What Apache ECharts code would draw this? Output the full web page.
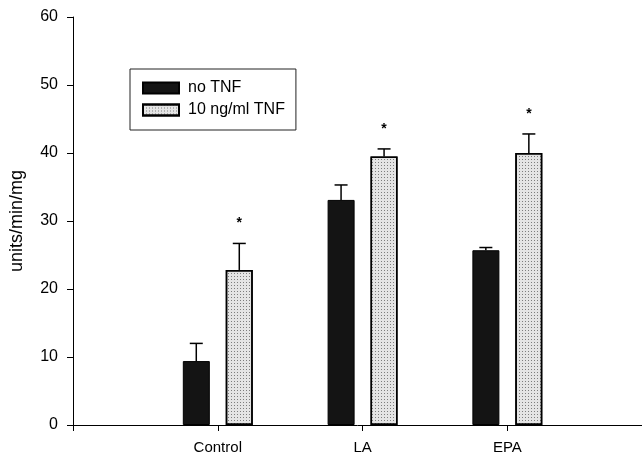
<!DOCTYPE html>
<html>
<head>
<meta charset="utf-8">
<script src="https://cdn.jsdelivr.net/npm/echarts@6/dist/echarts.min.js"></script>
<style>
  html, body { margin: 0; padding: 0; background: #fff; }
  #chart { width: 642px; height: 455px; }
</style>
</head>
<body>
<div id="chart"></div>
<script>
// data
var categories = ['Control', 'LA', 'EPA'];
var noTnf = [9.4, 33.1, 25.7];
var noTnfErr = [2.6, 2.2, 0.4];
var tnf = [22.8, 39.5, 40.0];
var tnfErr = [3.9, 1.1, 2.8];
var significant = [true, true, true];
var yTicks = [0, 10, 20, 30, 40, 50, 60];

var FONT = 'Liberation Sans, Arial, sans-serif';
var BAR_W = 27;
var GAP = 16;

var chart = echarts.init(document.getElementById('chart'));

function pos(i) { return i + 1; }

function barData(vals) {
  return vals.map(function (v, i) { return [pos(i), v]; });
}
function errData(vals, errs) {
  return vals.map(function (v, i) { return [pos(i), v + errs[i], v, significant[i] ? 1 : 0]; });
}

// upper whisker only, plus the star for the treated bars
function errorRenderer(side, withStar) {
  return function (params, api) {
    var shift = side * (BAR_W + GAP) / 2;
    var base = api.coord([api.value(0), api.value(2)]);
    var top = api.coord([api.value(0), api.value(1)]);
    var x = base[0] + shift;
    var cap = 6.5;
    var children = [
      { type: 'line', shape: { x1: x, y1: base[1], x2: x, y2: top[1] }, style: { stroke: '#000', lineWidth: 1.5 } },
      { type: 'line', shape: { x1: x - cap, y1: top[1], x2: x + cap, y2: top[1] }, style: { stroke: '#000', lineWidth: 1.5 } }
    ];
    if (withStar && api.value(3)) {
      children.push({
        type: 'text',
        style: { text: '*', x: x, y: top[1] - 20, align: 'center', verticalAlign: 'middle', font: 'bold 14px ' + FONT, fill: '#000' }
      });
    }
    return { type: 'group', children: children };
  };
}

chart.setOption({
  animation: false,
  backgroundColor: '#fff',
  grid: { left: 72, right: 0, top: 17, bottom: 29 },
  legend: {
    orient: 'vertical',
    left: 130,
    top: 69,
    padding: [11, 11, 12, 12],
    borderColor: '#222',
    borderWidth: 1,
    itemWidth: 36,
    itemHeight: 11,
    itemGap: 6,
    icon: 'rect',
    textStyle: { fontFamily: FONT, fontSize: 16, lineHeight: 15, color: '#000', padding: [0, 0, 0, 4] },
    data: ['no TNF', '10 ng/ml TNF']
  },
  xAxis: {
    type: 'value',
    min: 0,
    max: 3.93,
    interval: 1,
    splitLine: { show: false },
    axisLine: { lineStyle: { color: '#000', width: 1 } },
    axisTick: { length: 6, lineStyle: { color: '#000' }, customValues: [0, 1, 2, 3] },
    axisLabel: {
      customValues: [1, 2, 3],
      fontFamily: FONT, fontSize: 15, color: '#000', margin: 15,
      formatter: function (v) { return categories[Math.round(v) - 1] || ''; }
    }
  },
  yAxis: {
    type: 'value',
    min: 0,
    max: 60,
    interval: 10,
    name: 'units/min/mg',
    nameLocation: 'middle',
    nameGap: 47,
    nameTextStyle: { fontFamily: FONT, fontSize: 18, color: '#000' },
    splitLine: { show: false },
    axisLine: { show: true, lineStyle: { color: '#000', width: 1 } },
    axisTick: { show: true, length: 6, lineStyle: { color: '#000' }, customValues: yTicks },
    axisLabel: { fontFamily: FONT, fontSize: 16, color: '#000', margin: 15 }
  },
  series: [
    {
      name: 'no TNF',
      type: 'bar',
      barWidth: BAR_W,
      barGap: (GAP / BAR_W * 100).toFixed(0) + '%',
      itemStyle: { color: '#141414', borderColor: '#000', borderWidth: 1 },
      data: barData(noTnf)
    },
    {
      name: '10 ng/ml TNF',
      type: 'bar',
      barWidth: BAR_W,
      itemStyle: {
        color: '#e4e4e4',
        borderColor: '#000',
        borderWidth: 1.5,
        decal: { symbol: 'rect', symbolSize: 1, dashArrayX: [1, 2], dashArrayY: [1, 2], color: 'rgba(0,0,0,0.45)' }
      },
      data: barData(tnf)
    },
    {
      type: 'custom',
      renderItem: errorRenderer(-1, false),
      data: errData(noTnf, noTnfErr),
      z: 3
    },
    {
      type: 'custom',
      renderItem: errorRenderer(1, true),
      data: errData(tnf, tnfErr),
      z: 3
    }
  ]
});
</script>
</body>
</html>
